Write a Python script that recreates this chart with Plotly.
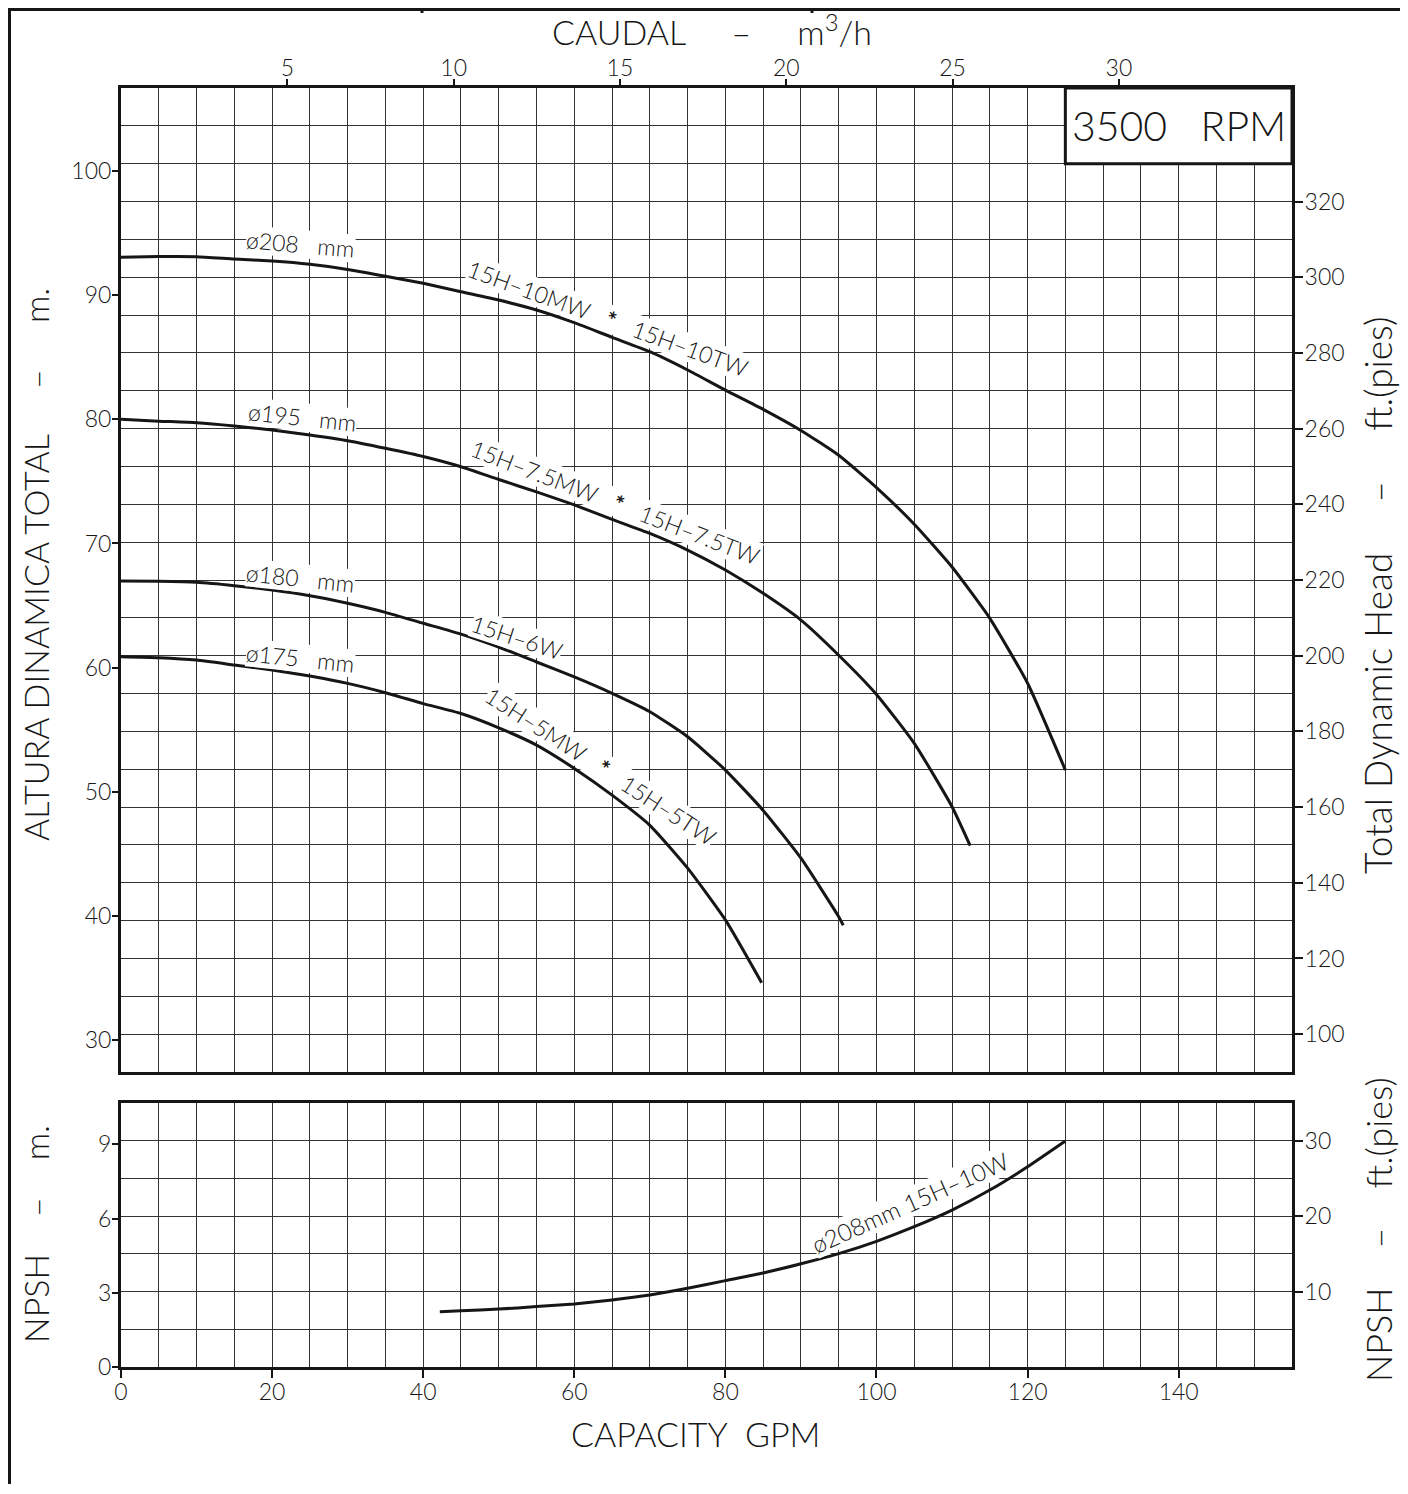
import plotly.graph_objects as go

# ---------------- data ----------------
FT_PER_M = 3.28084
GPM_PER_M3H = 4.402868

gpm_208 = [0, 5, 10, 15, 20, 25, 30, 35, 40, 45, 50, 55, 60, 65, 70, 75, 80, 85, 90, 95, 100, 105, 110, 115, 120, 125]
head_208 = [93.04, 93.10, 93.09, 92.90, 92.74, 92.48, 92.07, 91.52, 90.95, 90.27, 89.60, 88.80, 87.78, 86.60,
            85.44, 83.97, 82.35, 80.80, 79.10, 77.10, 74.50, 71.55, 68.10, 63.97, 58.74, 51.75]

gpm_195 = [0, 5, 10, 15, 20, 25, 30, 35, 40, 45, 50, 55, 60, 65, 70, 75, 80, 85, 90, 95, 100, 105, 110, 112.4]
head_195 = [80.00, 79.85, 79.72, 79.46, 79.13, 78.73, 78.27, 77.66, 77.00, 76.18, 75.15, 74.15, 73.10, 71.94,
            70.81, 69.47, 67.86, 65.98, 63.83, 61.00, 57.84, 53.90, 48.80, 45.66]

gpm_180 = [0, 5, 10, 15, 20, 25, 30, 35, 40, 45, 50, 55, 60, 65, 70, 75, 80, 85, 90, 95, 95.6]
head_180 = [66.97, 66.95, 66.87, 66.60, 66.25, 65.79, 65.18, 64.45, 63.57, 62.70, 61.65, 60.45, 59.25, 57.93,
            56.45, 54.43, 51.75, 48.50, 44.65, 39.94, 39.25]

gpm_175 = [0, 5, 10, 15, 20, 25, 30, 35, 40, 45, 50, 55, 60, 65, 70, 75, 80, 84.8]
head_175 = [60.88, 60.80, 60.61, 60.21, 59.81, 59.32, 58.73, 57.98, 57.10, 56.30, 55.15, 53.76, 51.88, 49.73,
            47.30, 43.85, 39.68, 34.62]

npsh_gpm = [42.2, 45, 50, 55, 60, 65, 70, 75, 80, 85, 90, 95, 100, 105, 110, 115, 120, 125]
npsh_m = [2.235, 2.275, 2.34, 2.44, 2.55, 2.71, 2.91, 3.18, 3.49, 3.80, 4.17, 4.58, 5.08, 5.67, 6.34, 7.15, 8.09, 9.13]

gpm_ticks = [0, 20, 40, 60, 80, 100, 120, 140]
m3h_ticks = [5, 10, 15, 20, 25, 30]
head_m_ticks = [30, 40, 50, 60, 70, 80, 90, 100]
head_ft_ticks = [100, 120, 140, 160, 180, 200, 220, 240, 260, 280, 300, 320]
npsh_m_ticks = [0, 3, 6, 9]
npsh_ft_ticks = [10, 20, 30]

NB = "\u00a0"
STAR = NB * 3 + "<b>*</b>" + NB * 3
curve_labels = ["ø208" + NB * 3 + "mm", "ø195" + NB * 3 + "mm", "ø180" + NB * 3 + "mm", "ø175" + NB * 3 + "mm",
                "15H–10MW" + STAR + "15H–10TW",
                "15H–7.5MW" + STAR + "15H–7.5TW",
                "15H–6W",
                "15H–5MW" + STAR + "15H–5TW"]
npsh_label = "ø208mm" + NB + "15H–10W"
rpm_label = "3500" + NB * 3 + "RPM"

# ---------------- layout constants (page pixels; the page body has an 8px margin) ----------------
OFF = 8
W, H = 1408 - OFF, 1494 - 2 * OFF - 2
PLOT_L, PLOT_R, PLOT_T, PLOT_B = 121, 1292, 88, 1367      # page pixel frame of the drawing area
L, T = PLOT_L - OFF, PLOT_T - OFF
R = W - (PLOT_R - OFF)
B = H - (PLOT_B - OFF)
PW, PH = PLOT_R - PLOT_L, PLOT_B - PLOT_T
X_MAX = 155
HEAD_FT_RANGE = [90, 350]
NPSH_FT_RANGE = [0, 35]
MAIN_BOTTOM_PX, NPSH_TOP_PX = 1072, 1103


def px_x(px):
    return (px - PLOT_L) / PW


def px_y(py):
    return (PLOT_B - py) / PH


FONT = "Lato, 'Open Sans', 'DejaVu Sans', sans-serif"
WEIGHT = 300
INK = "#161616"
GRID = "#333333"
TICKFONT = dict(family=FONT, size=23, color=INK, weight=WEIGHT)

fig = go.Figure()

line_style = dict(color=INK, width=3, shape="spline", smoothing=0.5)
for xs, ys in [(gpm_208, head_208), (gpm_195, head_195), (gpm_180, head_180), (gpm_175, head_175)]:
    fig.add_trace(go.Scatter(x=xs, y=[v * FT_PER_M for v in ys], xaxis="x2", yaxis="y2", mode="lines",
                             line=line_style, customdata=ys,
                             hovertemplate="%{x} GPM, %{customdata} m<extra></extra>", showlegend=False))
fig.add_trace(go.Scatter(x=npsh_gpm, y=[v * FT_PER_M for v in npsh_m], xaxis="x", yaxis="y", mode="lines",
                         line=line_style, customdata=npsh_m,
                         hovertemplate="%{x} GPM, %{customdata} m<extra></extra>", showlegend=False))
# the top m3/h axis gets the same largest curve (invisible) so that it is laid out with data
fig.add_trace(go.Scatter(x=[g / GPM_PER_M3H for g in gpm_208], y=[v * FT_PER_M for v in head_208],
                         xaxis="x3", yaxis="y2", mode="lines", line=dict(width=0, color="rgba(0,0,0,0)"),
                         opacity=0, hoverinfo="skip", showlegend=False))

frame = dict(showline=True, linewidth=3, linecolor=INK, mirror=True, zeroline=False)


def ticks_out(standoff):
    return dict(ticks="outside", ticklen=8, tickwidth=1.5, tickcolor=INK, tickfont=TICKFONT,
                ticklabelstandoff=standoff)


grid = dict(showgrid=True, gridcolor=GRID, gridwidth=1)

main_dom = [px_y(MAIN_BOTTOM_PX), 1]
npsh_dom = [0, px_y(NPSH_TOP_PX)]

fig.update_layout(
    width=W, height=H,
    margin=dict(l=L, r=R, t=T, b=B, pad=0),
    paper_bgcolor="white", plot_bgcolor="white",
    font=dict(family=FONT, size=22, color=INK, weight=WEIGHT),
    showlegend=False,
    # bottom (NPSH) x axis, GPM
    xaxis=dict(domain=[0, 1], anchor="y", range=[0, X_MAX], tickmode="array", tickvals=gpm_ticks,
               minor=dict(dtick=5, tick0=0, **grid), fixedrange=True, **grid, **frame, **ticks_out(-6)),
    # main plot x axis, GPM (no labels)
    xaxis2=dict(domain=[0, 1], anchor="y2", range=[0, X_MAX], showticklabels=False, ticks="",
                minor=dict(dtick=5, tick0=0, **grid), fixedrange=True, **grid, **frame),
    # top axis, m3/h
    xaxis3=dict(overlaying="x2", anchor="y2", side="top", range=[0, X_MAX / GPM_PER_M3H],
                tickmode="array", tickvals=m3h_ticks, showticklabels=True, showgrid=False, zeroline=False,
                showline=False, fixedrange=True, **ticks_out(-6)),
    # main head in ft (right, carries grid)
    yaxis2=dict(domain=main_dom, anchor="x2", side="right", range=HEAD_FT_RANGE,
                tickmode="array", tickvals=head_ft_ticks,
                minor=dict(dtick=10, tick0=0, **grid), fixedrange=True, **grid, **frame, **ticks_out(-3)),
    # main head in m (left)
    yaxis3=dict(overlaying="y2", anchor="x2", side="left",
                range=[HEAD_FT_RANGE[0] / FT_PER_M, HEAD_FT_RANGE[1] / FT_PER_M],
                tickmode="array", tickvals=head_m_ticks, showgrid=False, zeroline=False, showline=False,
                fixedrange=True, **ticks_out(-4)),
    # NPSH in ft (right, carries grid)
    yaxis=dict(domain=npsh_dom, anchor="x", side="right", range=NPSH_FT_RANGE,
               tickmode="array", tickvals=npsh_ft_ticks,
               minor=dict(dtick=5, tick0=0, **grid), fixedrange=True, **grid, **frame, **ticks_out(-3)),
    # NPSH in m (left)
    yaxis4=dict(overlaying="y", anchor="x", side="left",
                range=[NPSH_FT_RANGE[0] / FT_PER_M, NPSH_FT_RANGE[1] / FT_PER_M],
                tickmode="array", tickvals=npsh_m_ticks, showgrid=False, zeroline=False, showline=False,
                fixedrange=True, **ticks_out(-4)),
)

# ---------------- text ----------------
ann = []


def paper_text(text, px, py, angle=0, size=34):
    ann.append(dict(text=text, x=px_x(px), y=px_y(py), xref="paper", yref="paper", showarrow=False,
                    textangle=angle, xanchor="center", yanchor="middle",
                    font=dict(family=FONT, size=size, color=INK, weight=WEIGHT)))


def gap(n):
    return NB * n + "–" + NB * n


paper_text("CAUDAL" + gap(5) + "m<sup>3</sup>/h", 712, 30, size=34)
paper_text("CAPACITY" + NB * 2 + "GPM", 695, 1433, size=34)
paper_text("ALTURA" + NB + "DINAMICA" + NB + "TOTAL" + gap(5) + "m.", 35, 565, angle=-90, size=34)
paper_text("Total" + NB + "Dynamic" + NB + "Head" + gap(5) + "ft.(pies)", 1377, 595, angle=-90, size=37)
paper_text("NPSH" + gap(4) + "m.", 35, 1234, angle=-90, size=34)
paper_text("NPSH" + gap(4) + "ft.(pies)", 1378, 1230, angle=-90, size=36)

label_pos = [(23.8, 94.1, 5), (24.0, 80.15, 6), (23.8, 67.25, 6), (23.8, 60.8, 6),
             (64.4, 88.15, 20), (65.4, 73.3, 21), (52.4, 62.5, 18), (63.5, 52.05, 33)]
for text, (gx, gy, ang) in zip(curve_labels, label_pos):
    ann.append(dict(text=text, x=gx, y=gy, xref="x2", yref="y3", showarrow=False, textangle=ang,
                    xanchor="center", yanchor="middle", bgcolor="white", borderpad=0, borderwidth=0,
                    font=dict(family=FONT, size=23, color=INK, weight=WEIGHT)))

ann.append(dict(text=npsh_label, x=104.4, y=6.63, xref="x", yref="y4", showarrow=False, textangle=-24,
                xanchor="center", yanchor="middle", bgcolor="white", borderpad=0, borderwidth=0,
                font=dict(family=FONT, size=24, color=INK, weight=WEIGHT)))

# 3500 RPM box (aligned to grid cells)
shapes = [dict(type="rect", xref="x2", yref="y2", x0=125, x1=X_MAX, y0=330, y1=HEAD_FT_RANGE[1],
               fillcolor="white", line=dict(color=INK, width=3), layer="above")]
ann.append(dict(text=rpm_label, x=140, y=340, xref="x2", yref="y2", showarrow=False,
                xanchor="center", yanchor="middle", font=dict(family=FONT, size=41, color=INK, weight=WEIGHT)))

# page border (kept just inside the figure area)
for (x0, y0, x1, y1) in [(OFF + 1.5, OFF, OFF + 1.5, OFF + H), (1403, OFF, 1403, OFF + H),
                         (OFF, OFF + 1.5, OFF + W, OFF + 1.5), (422, OFF, 422, OFF + 5), (812, OFF, 812, OFF + 5)]:
    shapes.append(dict(type="line", xref="paper", yref="paper", x0=px_x(x0), x1=px_x(x1),
                       y0=px_y(y0), y1=px_y(y1), line=dict(color=INK, width=3), layer="above"))

fig.update_layout(annotations=ann, shapes=shapes)

fig.write_html("out.html")
